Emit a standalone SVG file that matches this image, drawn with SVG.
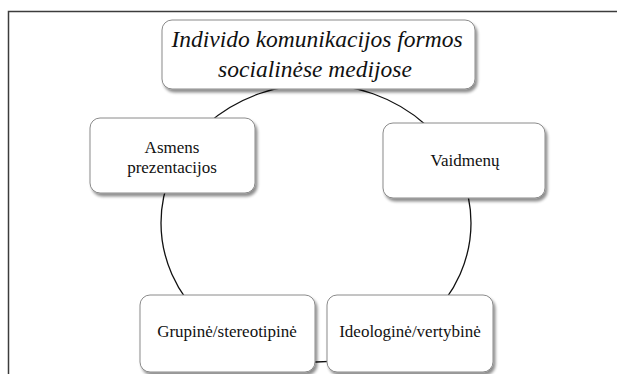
<svg xmlns="http://www.w3.org/2000/svg" width="618" height="374" viewBox="0 0 618 374">
<style>
.box{fill:#fff;stroke:#8a8a8a;stroke-width:1;filter:url(#sh)}
.t{font-family:"Liberation Serif","Times New Roman",serif;font-size:17px;fill:#111;text-anchor:middle}
.ti{font-family:"Liberation Serif","Times New Roman",serif;font-size:23.5px;font-style:italic;fill:#111;text-anchor:middle}
.frame{stroke:#3c3c3c;stroke-width:1.5;fill:none}
.arc{stroke:#111;stroke-width:1.3;fill:none}
</style>
<defs>
<filter id="sh" x="-10%" y="-10%" width="130%" height="140%">
<feGaussianBlur in="SourceAlpha" stdDeviation="1.5"/>
<feOffset dx="1.5" dy="2.5" result="o"/>
<feComponentTransfer><feFuncA type="linear" slope="0.45"/></feComponentTransfer>
<feMerge><feMergeNode/><feMergeNode in="SourceGraphic"/></feMerge>
</filter>
</defs>
<rect width="618" height="374" fill="#fff"/>
<path class="frame" d="M8.5 374 V11.5 H617"/>
<g id="connectors">
<ellipse class="arc" cx="316" cy="223" rx="155" ry="139"/>
</g>
<g id="title">
<rect class="box" x="162" y="20" width="313" height="69" rx="10"/>
<text class="ti" x="317" y="47">Individo komunikacijos formos</text>
<text class="ti" x="315" y="77">socialinėse medijose</text>
</g>
<g id="asmens">
<rect class="box" x="90" y="118" width="165" height="75" rx="10"/>
<text class="t" x="172" y="153">Asmens</text>
<text class="t" x="172" y="173">prezentacijos</text>
</g>
<g id="vaidmenu">
<rect class="box" x="383" y="123" width="162" height="75" rx="10"/>
<text class="t" x="465" y="166">Vaidmenų</text>
</g>
<g id="grupine">
<rect class="box" x="140" y="295" width="175" height="77" rx="10"/>
<text class="t" x="227" y="337">Grupinė/stereotipinė</text>
</g>
<g id="ideologine">
<rect class="box" x="327" y="295" width="166" height="77" rx="10"/>
<text class="t" x="410" y="337">Ideologinė/vertybinė</text>
</g>
</svg>
